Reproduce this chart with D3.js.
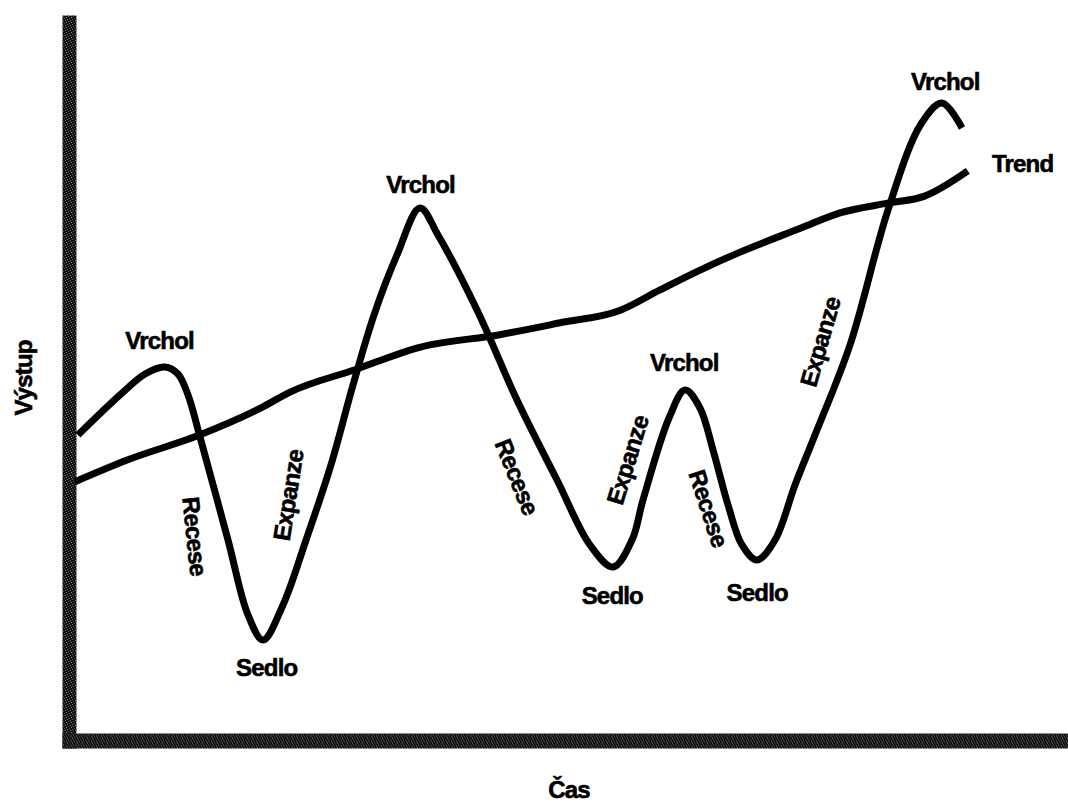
<!DOCTYPE html>
<html>
<head>
<meta charset="utf-8">
<script src="https://cdn.jsdelivr.net/npm/d3@7"></script>
<style>
  html, body { margin: 0; padding: 0; background: #fff; }
  svg text { font-family: "Liberation Sans", Arial, sans-serif; font-weight: bold; fill: #000;
             stroke: #000; stroke-width: 0.6px; font-size: 24px; letter-spacing: -0.8px; }
</style>
</head>
<body>
<svg id="chart" width="1068" height="807"></svg>
<script>
// business cycle curve (time, output)
var cycleT = [0.33, 5, 7.78, 10, 11.44, 12.56, 13.89, 17, 19.22, 20.89, 23.11, 25.67, 28.44, 30.89, 33.22, 35.78, 38.33, 40.33, 44.67, 49.11, 53.56, 57.22, 59.78, 61.89, 63.11, 66, 67.78, 69.44, 70.89, 72.56, 74.11, 75.78, 77.78, 80, 82.22, 86.11, 90.33, 94, 96.33, 98.56];
var cycleV = [43.57, 49.29, 52.29, 53.29, 52.29, 49.29, 43.29, 28.57, 17.86, 14.29, 19.29, 28.57, 39.29, 50.71, 60.71, 69.29, 76, 72.14, 61.43, 48.57, 37.14, 27.86, 24.71, 28.57, 34.29, 46, 50, 47.43, 41.43, 33.57, 27.86, 25.71, 28.57, 36.43, 43.57, 56.43, 75.71, 88, 91, 87.43];

// long run trend
var trendT = [0, 5.8, 13.9, 20.6, 23.9, 31.1, 38.3, 47.2, 53.9, 60.6, 65, 69.4, 73.9, 80.6, 85, 90.3, 94.4, 99.2];
var trendV = [36.9, 40, 43.6, 47.4, 49.7, 52.9, 56.1, 57.9, 59.6, 61.4, 64.3, 67.1, 69.7, 73.1, 75.3, 76.7, 77.7, 81.3];

// annotations: text, time, output, rotation
var labelText = ["Vrchol", "Vrchol", "Vrchol", "Vrchol", "Sedlo", "Sedlo", "Sedlo", "Recese", "Recese", "Recese", "Expanze", "Expanze", "Expanze"];
var labelT = [9.4, 38.4, 67.7, 96.7, 21.3, 59.7, 75.8, 13.3, 49.1, 70.4, 23.7, 61.4, 82.8];
var labelV = [57.1, 79.3, 53.9, 94, 10.4, 20.7, 21.1, 29.1, 37.6, 33.1, 35, 40, 56.9];
var labelRot = [0, 0, 0, 0, 0, 0, 0, 84, 68, 72, -81, -73, -74];

var svg = d3.select('#chart');
var W = 1068, H = 807;

var x = d3.scaleLinear().domain([0, 100]).range([75, 975]);
var y = d3.scaleLinear().domain([0, 100]).range([740, 40]);

// dithered dark grey texture for the axes
var defs = svg.append('defs');
var pat = defs.append('pattern').attr('id', 'dither')
    .attr('patternUnits', 'userSpaceOnUse').attr('width', 5).attr('height', 5);
pat.append('rect').attr('width', 5).attr('height', 5).attr('fill', '#121212');
[[1, 0, '#7a7a7a'], [4, 1, '#555'], [2, 2, '#8a8a8a'], [0, 3, '#4a4a4a'], [3, 4, '#6a6a6a']].forEach(function (p) {
    pat.append('rect').attr('x', p[0]).attr('y', p[1]).attr('width', 1).attr('height', 1).attr('fill', p[2]);
});

// axes (no ticks, just heavy lines)
var yAxis = d3.axisLeft(d3.scaleLinear().domain([0, 1]).range([748, 15])).ticks(0).tickSizeOuter(0);
var xAxis = d3.axisBottom(d3.scaleLinear().domain([0, 1]).range([62, W])).ticks(0).tickSizeOuter(0);
svg.append('g').attr('transform', 'translate(69,0)').call(yAxis)
    .select('.domain').attr('stroke', 'url(#dither)').attr('stroke-width', 14);
svg.append('g').attr('transform', 'translate(0,740.5)').call(xAxis)
    .select('.domain').attr('stroke', 'url(#dither)').attr('stroke-width', 15);

var trendLine = d3.line()
    .x(function (d) { return x(d[0]); })
    .y(function (d) { return y(d[1]); })
    .curve(d3.curveMonotoneX);
var cycleLine = d3.line()
    .x(function (d) { return x(d[0]); })
    .y(function (d) { return y(d[1]); })
    .curve(d3.curveCatmullRom.alpha(0.5));

var trend = d3.zip(trendT, trendV);
var cycle = d3.zip(cycleT, cycleV);

svg.append('path').datum(trend).attr('d', trendLine)
    .attr('fill', 'none').attr('stroke', '#000').attr('stroke-width', 7);
svg.append('path').datum(cycle).attr('d', cycleLine)
    .attr('fill', 'none').attr('stroke', '#000').attr('stroke-width', 7)
    .attr('stroke-linejoin', 'round');

// labels
svg.append('g').selectAll('text').data(labelText).enter().append('text')
    .attr('transform', function (d, i) {
        return 'translate(' + x(labelT[i]) + ',' + y(labelV[i]) + ') rotate(' + labelRot[i] + ')';
    })
    .attr('text-anchor', 'middle').attr('dy', '0.35em')
    .text(function (d) { return d; });

svg.append('text').attr('x', 992).attr('y', y(82.3)).attr('dy', '0.35em').text('Trend');

svg.append('text').attr('transform', 'translate(24,378) rotate(-90)')
    .attr('text-anchor', 'middle').attr('dy', '0.35em').text('Výstup');

svg.append('text').attr('x', 569).attr('y', 790).attr('text-anchor', 'middle')
    .attr('dy', '0.35em').text('Čas');
</script>
</body>
</html>
